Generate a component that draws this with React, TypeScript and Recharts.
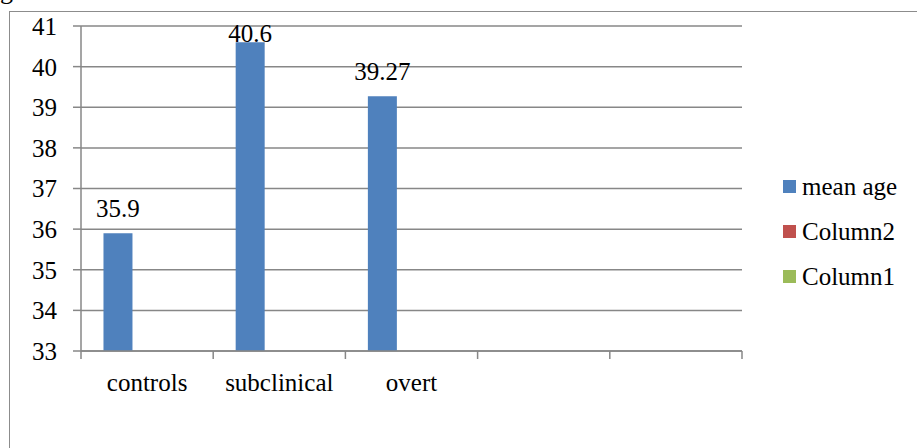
import React from "react";
import {
  BarChart,
  Bar,
  XAxis,
  YAxis,
  CartesianGrid,
  Legend,
  LabelList,
} from "recharts";

const categories = ["controls", "subclinical", "overt", "", ""];
const meanAge = [35.9, 40.6, 39.27, null, null];
const column2 = [null, null, null, null, null];
const column1 = [null, null, null, null, null];
const yTicks = [33, 34, 35, 36, 37, 38, 39, 40, 41];

const series = [
  { key: "meanAge", name: "mean age", color: "#4F81BD", values: meanAge },
  { key: "column2", name: "Column2", color: "#C0504D", values: column2 },
  { key: "column1", name: "Column1", color: "#9BBB59", values: column1 },
];

const data = categories.map((c, i) => {
  const row: Record<string, string | number | null> = { category: c };
  series.forEach((s) => (row[s.key] = s.values[i]));
  return row;
});

const W = 917;
const H = 448;
const PLOT_LEFT = 81;
const PLOT_RIGHT = 742;
const PLOT_TOP = 26;
const BAND = (PLOT_RIGHT - PLOT_LEFT) / categories.length;
const TICK = 8;
const TICK_GAP = 14;
const GRID = "#878787";
const FONT = "Liberation Serif, Tinos, DejaVu Serif, Times New Roman, serif";
const FS = 25;

// ticks sit on category boundaries, labels in the middle
function CategoryTick(props: any) {
  const { x, y, payload, index } = props;
  const y1 = y - TICK_GAP - TICK;
  const y2 = y - TICK_GAP;
  const half = BAND / 2;
  return (
    <g>
      <line x1={x - half} x2={x - half} y1={y1} y2={y2} stroke={GRID} strokeWidth={1.5} />
      {index === categories.length - 1 && (
        <line x1={x + half} x2={x + half} y1={y1} y2={y2} stroke={GRID} strokeWidth={1.5} />
      )}
      <text
        x={x}
        y={y + 18}
        textAnchor="middle"
        style={{ fontFamily: FONT, fontSize: FS }}
        fill="#000"
      >
        {payload.value}
      </text>
    </g>
  );
}

// value above the bar, kept inside the plot area
function ValueLabel(props: any) {
  const { x, y, width, value } = props;
  if (value == null) return null;
  const baseline = Math.max(y - 16, PLOT_TOP + 16);
  return (
    <text
      x={x + width / 2}
      y={baseline}
      textAnchor="middle"
      style={{ fontFamily: FONT, fontSize: FS }}
      fill="#000"
    >
      {value}
    </text>
  );
}

function LegendBox() {
  return (
    <div style={{ fontFamily: FONT, fontSize: FS, color: "#000" }}>
      {series.map((s) => (
        <div
          key={s.key}
          style={{ display: "flex", alignItems: "center", height: 45, whiteSpace: "nowrap" }}
        >
          <span
            style={{
              display: "inline-block",
              width: 13,
              height: 13,
              background: s.color,
              marginRight: 6,
            }}
          />
          {s.name}
        </div>
      ))}
    </div>
  );
}

export default function App() {
  return (
    <div
      style={{
        position: "relative",
        width: W,
        height: H,
        overflow: "hidden",
        background: "#fff",
        fontFamily: FONT,
      }}
    >
      <style>{`body{margin:0}`}</style>
      <div
        style={{
          position: "absolute",
          left: 0,
          top: -24,
          fontSize: 26,
          lineHeight: "30px",
        }}
      >
        g
      </div>
      <div
        style={{
          position: "absolute",
          left: 9,
          top: 11,
          width: 1200,
          height: 1200,
          border: "1.5px solid #8c8c8c",
        }}
      />
      <div style={{ position: "absolute", left: 0, top: 0 }}>
        <BarChart
          width={W}
          height={H}
          data={data}
          margin={{ top: PLOT_TOP, right: W - PLOT_RIGHT, bottom: 37, left: 0 }}
          barCategoryGap="17%"
          barGap={0}
          style={{ fontFamily: FONT }}
        >
          <CartesianGrid vertical={false} stroke={GRID} strokeWidth={1.5} />
          <XAxis
            dataKey="category"
            height={60}
            interval={0}
            axisLine={{ stroke: GRID, strokeWidth: 1.5 }}
            tickLine={false}
            tickSize={TICK}
            tickMargin={TICK_GAP}
            tick={<CategoryTick />}
          />
          <YAxis
            width={PLOT_LEFT}
            domain={[33, 41]}
            ticks={yTicks}
            interval={0}
            axisLine={{ stroke: GRID, strokeWidth: 1.5 }}
            tickLine={{ stroke: GRID, strokeWidth: 1.5 }}
            tickSize={TICK}
            tickMargin={16}
            tick={{ fontFamily: FONT, fontSize: FS, fill: "#000" }}
          />
          <Legend
            layout="vertical"
            align="center"
            verticalAlign="middle"
            wrapperStyle={{ left: 783, top: 164, width: 134 }}
            content={<LegendBox />}
          />
          {series.map((s) => (
            <Bar
              key={s.key}
              dataKey={s.key}
              name={s.name}
              fill={s.color}
              isAnimationActive={false}
            >
              {s.key === "meanAge" && <LabelList dataKey={s.key} content={<ValueLabel />} />}
            </Bar>
          ))}
        </BarChart>
      </div>
    </div>
  );
}
